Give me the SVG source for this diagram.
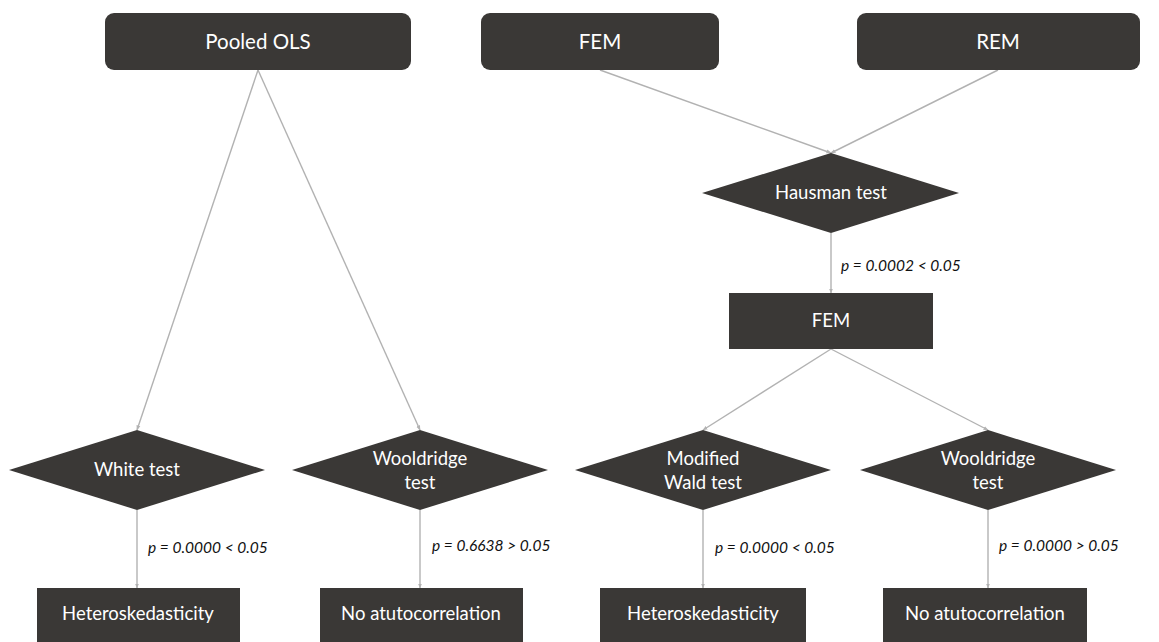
<svg xmlns="http://www.w3.org/2000/svg" width="1159" height="642" viewBox="0 0 1159 642">
<style>
.n{fill:#3a3836}
.t{fill:#ffffff;font-family:Lato,"Open Sans",sans-serif;font-size:18.5px;text-anchor:middle}
.tl{font-size:20.5px}
.p{fill:#111;font-family:Lato,"Open Sans",sans-serif;font-size:15.5px;font-style:italic}
.c{stroke:#b2b2b2;stroke-width:1.4;fill:none;marker-end:url(#a)}
</style>
<defs>
<marker id="a" viewBox="0 0 10 10" refX="9" refY="5" markerWidth="5" markerHeight="5" orient="auto" markerUnits="userSpaceOnUse">
<path d="M0,1 L10,5 L0,9 z" fill="#b2b2b2"/>
</marker>
</defs>
<rect width="1159" height="642" fill="#ffffff"/>
<g id="connectors">
<line class="c" x1="258" y1="70" x2="137" y2="430"/>
<line class="c" x1="258" y1="70" x2="420" y2="430"/>
<line class="c" x1="600" y1="70" x2="831" y2="153"/>
<line class="c" x1="998" y1="70" x2="831" y2="153"/>
<line class="c" x1="831" y1="233" x2="831" y2="293"/>
<line class="c" x1="831" y1="349" x2="703" y2="430"/>
<line class="c" x1="831" y1="349" x2="988" y2="430"/>
<line class="c" x1="137" y1="510" x2="137" y2="588"/>
<line class="c" x1="420" y1="510" x2="420" y2="588"/>
<line class="c" x1="703" y1="510" x2="703" y2="588"/>
<line class="c" x1="988" y1="510" x2="988" y2="588"/>
<text class="p" x="841" y="271">p = 0.0002 &lt; 0.05</text>
<text class="p" x="148" y="553">p = 0.0000 &lt; 0.05</text>
<text class="p" x="432" y="551">p = 0.6638 &gt; 0.05</text>
<text class="p" x="715" y="553">p = 0.0000 &lt; 0.05</text>
<text class="p" x="999" y="551">p = 0.0000 &gt; 0.05</text>
</g>
<g id="pooled-ols"><rect class="n" x="105" y="13" width="306" height="57" rx="9"/><text class="t tl" x="258" y="49">Pooled OLS</text></g>
<g id="fem-top"><rect class="n" x="481" y="13" width="238" height="57" rx="9"/><text class="t tl" x="600" y="49">FEM</text></g>
<g id="rem-top"><rect class="n" x="857" y="13" width="283" height="57" rx="9"/><text class="t tl" x="998" y="49">REM</text></g>
<g id="hausman"><polygon class="n" points="831,153 959,193 831,233 702,193"/><text class="t" x="831" y="199">Hausman test</text></g>
<g id="fem-mid"><rect class="n" x="729" y="293" width="204" height="56"/><text class="t" x="831" y="327">FEM</text></g>
<g id="white-test"><polygon class="n" points="137,430 265,470 137,510 9,470"/><text class="t" x="137" y="476">White test</text></g>
<g id="wooldridge-1"><polygon class="n" points="420,430 548,470 420,510 292,470"/><text class="t" x="420" y="465">Wooldridge</text><text class="t" x="420" y="489">test</text></g>
<g id="modified-wald"><polygon class="n" points="703,430 831,470 703,510 575,470"/><text class="t" x="703" y="465">Modified</text><text class="t" x="703" y="489">Wald test</text></g>
<g id="wooldridge-2"><polygon class="n" points="988,430 1116,470 988,510 860,470"/><text class="t" x="988" y="465">Wooldridge</text><text class="t" x="988" y="489">test</text></g>
<g id="hetero-1"><rect class="n" x="37" y="588" width="203" height="60"/><text class="t" x="138" y="620">Heteroskedasticity</text></g>
<g id="noauto-1"><rect class="n" x="320" y="588" width="203" height="60"/><text class="t" x="421" y="620">No atutocorrelation</text></g>
<g id="hetero-2"><rect class="n" x="600" y="588" width="206" height="60"/><text class="t" x="703" y="620">Heteroskedasticity</text></g>
<g id="noauto-2"><rect class="n" x="883" y="588" width="204" height="60"/><text class="t" x="985" y="620">No atutocorrelation</text></g>
</svg>
